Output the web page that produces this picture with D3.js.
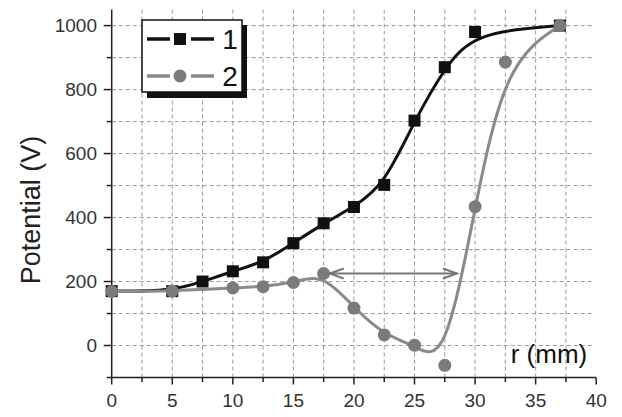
<!DOCTYPE html>
<html>
<head>
<meta charset="utf-8">
<script src="https://cdn.jsdelivr.net/npm/d3@7/dist/d3.min.js"></script>
<style>
  body { margin: 0; background: #fff; }
  text { font-family: "Liberation Sans", Arial, sans-serif; }
</style>
</head>
<body>
<div id="chart"></div>
<script>
const width = 622
const height = 417

// series 1 (black squares)
const r1 = [0, 5, 7.5, 10, 12.5, 15, 17.5, 20, 22.5, 25, 27.5, 30, 37]
const v1 = [170, 170, 200, 232, 260, 320, 382, 433, 502, 703, 870, 980, 1000]
// series 2 (grey circles)
const r2 = [0, 5, 10, 12.5, 15, 17.5, 20, 22.5, 25, 27.5, 30, 32.5, 37]
const v2 = [169, 170, 180, 184, 197, 225, 117, 33, 1, -62, 434, 886, 1000]

const xTicks = [0, 5, 10, 15, 20, 25, 30, 35, 40]
const yTicks = [0, 200, 400, 600, 800, 1000]
const legendLabels = ['1', '2']

// double arrow (r from, r to, potential)
const arrowR = [18.0, 28.5]
const arrowV = 225

const x = d3.scaleLinear().domain([0, 40]).range([111.7, 596.2])
const y = d3.scaleLinear().domain([-100, 1050]).range([377.5, 9.6])

const svg = d3.select('#chart')
  .append('svg')
  .attr('width', width)
  .attr('height', height)

const grid = svg.append('g')
  .attr('stroke', '#999')
  .attr('stroke-width', 1)
  .attr('stroke-dasharray', '4,3')

grid.selectAll('.vg')
  .data(d3.range(2.5, 38, 2.5))
  .enter().append('line')
  .attr('x1', d => x(d)).attr('x2', d => x(d))
  .attr('y1', y(1050)).attr('y2', y(-100))

grid.selectAll('.hg')
  .data(d3.range(0, 1001, 100))
  .enter().append('line')
  .attr('x1', x(0)).attr('x2', x(39.7))
  .attr('y1', d => y(d)).attr('y2', d => y(d))

// axes
const axisG = svg.append('g').attr('stroke', '#222').attr('stroke-width', 1.5)
axisG.append('line')
  .attr('x1', x(0)).attr('x2', x(0))
  .attr('y1', y(1050)).attr('y2', y(-100))
axisG.append('line')
  .attr('x1', x(0)).attr('x2', x(40))
  .attr('y1', y(-100)).attr('y2', y(-100))

axisG.selectAll('.xt')
  .data(d3.range(0, 40.1, 2.5))
  .enter().append('line')
  .attr('x1', d => x(d)).attr('x2', d => x(d))
  .attr('y1', y(-100))
  .attr('y2', d => y(-100) + (d % 5 === 0 ? 7 : 4.5))

axisG.selectAll('.yt')
  .data(d3.range(-100, 1001, 100))
  .enter().append('line')
  .attr('y1', d => y(d)).attr('y2', d => y(d))
  .attr('x1', x(0))
  .attr('x2', d => x(0) - (d % 200 === 0 ? 8 : 5))

svg.selectAll('.xl')
  .data(xTicks)
  .enter().append('text')
  .attr('x', d => x(d))
  .attr('y', 406.5)
  .attr('text-anchor', 'middle')
  .attr('font-size', 19)
  .attr('fill', '#333')
  .text(d => d)

svg.selectAll('.yl')
  .data(yTicks)
  .enter().append('text')
  .attr('x', 97)
  .attr('y', d => y(d) + 6.8)
  .attr('text-anchor', 'end')
  .attr('font-size', 19)
  .attr('fill', '#333')
  .text(d => d)

svg.append('text')
  .attr('transform', 'translate(40,210) rotate(-90)')
  .attr('text-anchor', 'middle')
  .attr('font-size', 27)
  .attr('fill', '#222')
  .text('Potential (V)')

svg.append('text')
  .attr('x', 549)
  .attr('y', 362.5)
  .attr('text-anchor', 'middle')
  .attr('font-size', 26)
  .attr('fill', '#111')
  .text('r (mm)')

const line = d3.line()
  .x(d => x(d[0]))
  .y(d => y(d[1]))
  .curve(d3.curveBasis)

const s1 = r1.map((r, i) => [r, v1[i]])
const s2 = r2.map((r, i) => [r, v2[i]])

// series 1
svg.append('path')
  .datum(s1)
  .attr('d', line)
  .attr('fill', 'none')
  .attr('stroke', '#111')
  .attr('stroke-width', 3)

svg.selectAll('.sq')
  .data(s1)
  .enter().append('rect')
  .attr('x', d => x(d[0]) - 6)
  .attr('y', d => y(d[1]) - 6)
  .attr('width', 12)
  .attr('height', 12)
  .attr('fill', '#111')

// series 2
svg.append('path')
  .datum(s2)
  .attr('d', line)
  .attr('fill', 'none')
  .attr('stroke', '#8a8a8a')
  .attr('stroke-width', 3)

svg.selectAll('.ci')
  .data(s2)
  .enter().append('circle')
  .attr('cx', d => x(d[0]))
  .attr('cy', d => y(d[1]))
  .attr('r', 6.5)
  .attr('fill', '#7b7b7b')

// arrow
const ay = y(arrowV)
const ax1 = x(arrowR[0])
const ax2 = x(arrowR[1])
const arrow = svg.append('g')
  .attr('stroke', '#777')
  .attr('stroke-width', 2)
  .attr('fill', 'none')
arrow.append('line')
  .attr('x1', ax1).attr('x2', ax2)
  .attr('y1', ay).attr('y2', ay)
arrow.append('path')
  .attr('d', `M${ax1 + 14},${ay - 5} L${ax1},${ay} L${ax1 + 14},${ay + 5}`)
arrow.append('path')
  .attr('d', `M${ax2 - 14},${ay - 5} L${ax2},${ay} L${ax2 - 14},${ay + 5}`)

// legend
const lg = svg.append('g')
lg.append('rect')
  .attr('x', 147).attr('y', 25)
  .attr('width', 100).attr('height', 73)
  .attr('fill', '#111')
lg.append('rect')
  .attr('x', 142).attr('y', 20)
  .attr('width', 100).attr('height', 72)
  .attr('fill', '#fff')
  .attr('stroke', '#111')
  .attr('stroke-width', 1.5)

const legendRows = [
  { y: 39, color: '#111', shape: 'square' },
  { y: 76, color: '#8a8a8a', shape: 'circle' }
]
legendRows.forEach((row, i) => {
  lg.append('line')
    .attr('x1', 147).attr('x2', 214)
    .attr('y1', row.y).attr('y2', row.y)
    .attr('stroke', row.color)
    .attr('stroke-width', 3.5)
    .attr('stroke-dasharray', '23,21')
  if (row.shape === 'square') {
    lg.append('rect')
      .attr('x', 174).attr('y', row.y - 6)
      .attr('width', 12).attr('height', 12)
      .attr('fill', '#111')
  } else {
    lg.append('circle')
      .attr('cx', 180).attr('cy', row.y)
      .attr('r', 6.5)
      .attr('fill', '#7b7b7b')
  }
  lg.append('text')
    .attr('x', 230)
    .attr('y', row.y + 10)
    .attr('text-anchor', 'middle')
    .attr('font-size', 28)
    .attr('fill', '#111')
    .text(legendLabels[i])
})
</script>
</body>
</html>
